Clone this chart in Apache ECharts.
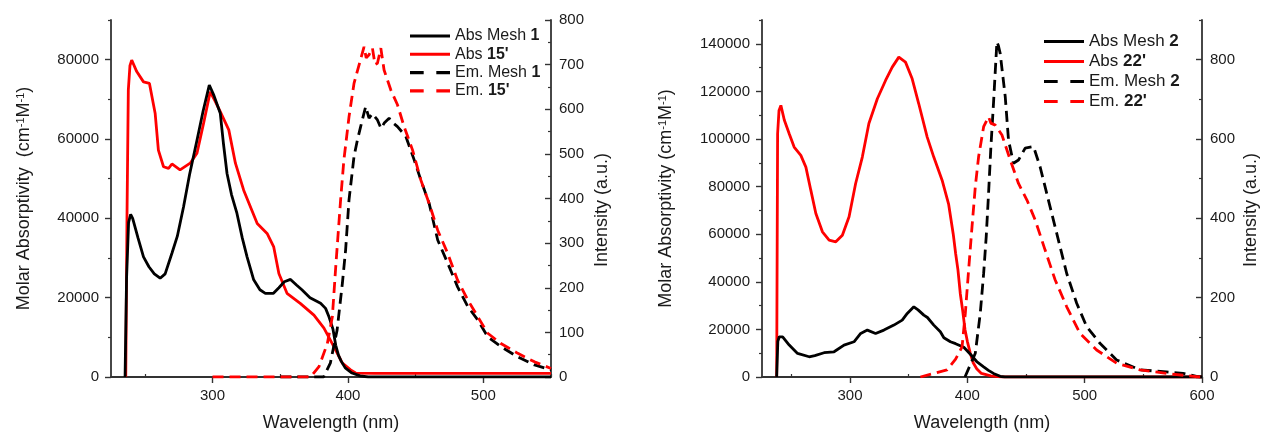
<!DOCTYPE html>
<html><head><meta charset="utf-8">
<script src="https://cdn.jsdelivr.net/npm/echarts@6/dist/echarts.min.js"></script>
<style>html,body{margin:0;padding:0;background:#fff}#c{width:1261px;height:433px}</style>
</head><body><div id="c"></div>
<script>
// ---------- Left panel (Mesh 1 / 15') ----------
const absMesh1_wl  = [235.4,236.5,238,239.5,241,245,249,253,257,261.3,265,270,274,278.6,283,288.5,293,297.6,301,305.7,308,310.7,314,318,322,325.5,330.4,335,339,345,349,353,357.6,362,366,372,379.8,383.5,386,389,391,393,395,398,403,409,415,450,500,550];
const absMesh1_val = [0,25000,39000,41000,40000,35000,30300,27800,26000,24900,26000,31200,35500,42900,51000,59700,67000,73600,71000,66500,59000,51300,46000,41300,35000,30300,24500,22000,21100,21100,22500,24000,24600,23200,22000,20000,18600,17300,15200,12000,8000,5500,4000,2300,1000,300,0,0,0,0];

const abs15_wl  = [235.9,236.8,237.8,239,240.3,244,249,253.4,257.6,260,263.8,267.5,270,276,283.5,288.5,293.4,298.3,302,305.7,312,316.9,323,333,340.3,345.2,349,355,365,374.9,382.3,389.7,395.9,402,405.7,420,550];
const abs15_val = [0,40000,72400,78500,79900,77000,74400,74000,66500,57200,53000,52600,53700,52200,53900,56400,64000,71900,69500,66900,62300,53900,47100,38700,36200,32800,26100,21100,18500,15600,12300,7600,3500,1800,1000,900,900];

const emMesh1_wl  = [350,382,387,392,395.9,398.3,400.8,404.5,407,409.4,413.1,415.6,418,421.8,424.5,427,430.4,433,436.6,442.8,449,453.9,460,466.3,473.7,481,488.5,495.9,503.3,513,525.5,537.8,550];
const emMesh1_val = [0,0,31,105,210,285,397,494,531,561,606,580,590,576,557,570,580,570,561,539,486,441,389,307,255,202,158,128,90,68,45,27,16];

const em15_wl  = [300,372.4,378.6,384.8,388.5,391,394.6,397,400.8,404.5,408.2,411.9,413.5,415.6,418.1,420,421.8,424.3,426.7,431.7,436.6,441.5,447.7,453.9,460,466.3,473.7,481,488.5,495.9,503.3,513,525.5,537.8,550];
const em15_val = [0,0,23,75,135,247,397,486,583,658,699,740,715,722,737,700,703,737,688,643,610,561,509,441,389,329,277,217,173,135,98,75,53,34,19];

// ---------- Right panel (Mesh 2 / 22') ----------
const absMesh2_wl  = [237.5,238.5,239.7,242.6,248.2,255.3,265.2,270,277.9,286.4,294.9,303.4,309.1,314.8,321.8,328.9,337.4,344.5,348.8,354.4,358,362.9,366,371.4,377,380,385.6,390,397,404,408,413.9,418,422.3,428,432,600];
const absMesh2_val = [0,15000,16900,16900,13400,9900,8500,9000,10200,10600,13400,14800,18300,19700,18300,19700,21800,23900,26700,29500,28200,26000,25000,21800,19000,16500,14800,14000,12500,8800,6500,4300,2800,1500,300,0,0];

const abs22_wl  = [237.5,238.3,239.5,241.1,244,248.2,252.4,258.1,262.4,266.6,270.9,276.5,282.2,287.9,293.5,299.2,304.8,310.5,316.1,323.3,330.3,336,341.6,347.3,353,358.6,365.8,371.4,378.5,384.1,388,390,392,394,396,398,400,402.5,405,408,412,420,430,600];
const abs22_val = [0,102200,112000,114100,108000,102200,96600,93100,88200,78500,68700,61000,57500,56800,59600,67300,81300,92400,106500,116900,124600,130200,134400,132300,125300,114800,100800,92400,82700,72500,60000,52000,45000,35000,28000,20000,15000,10000,6000,3500,1500,500,0,0];

const emMesh2_wl  = [398,399.7,406.8,411,413.9,416.1,418.1,420.1,422.3,425.2,426.5,428,432.3,435.1,439.3,443.6,449.3,456.4,462,469.1,476.2,484.7,493.2,501.7,513,527.2,547,569.6,583.8,598,600];
const emMesh2_val = [0,0,60,160,261,354,463,581,690,845,835,816,707,597,539,547,577,581,530,446,362,261,186,127,85,43,18,13,9,0,0];

const em22_wl  = [360,382.7,390,395.5,398.3,401.1,404,406.8,409.6,413.9,418.1,420,423.8,429.5,436.6,443.6,450.8,457.8,466.3,474.8,484.7,496,510.2,527.2,547,569.6,598,600];
const em22_val = [0,18,45,76,161,270,379,480,555,631,656,640,635,610,547,488,446,396,320,245,177,110,68,35,18,9,0,0];

// ---------- Tick labels ----------
const xTicksL = [300,400,500];
const xMinorL = [250,350,450,550];
const xTicksR = [300,400,500,600];
const xMinorR = [250,350,450,550];
const yAbsTicksL = [0,20000,40000,60000,80000];
const yAbsMinorL = [10000,30000,50000,70000,90000];
const yEmTicksL = [0,100,200,300,400,500,600,700,800];
const yEmMinorL = [50,150,250,350,450,550,650,750];
const yAbsTicksR = [0,20000,40000,60000,80000,100000,120000,140000];
const yAbsMinorR = [10000,30000,50000,70000,90000,110000,130000,150000];
const yEmTicksR = [0,200,400,600,800];
const yEmMinorR = [100,300,500,700,900];

const FONT = "'Liberation Sans', Arial, sans-serif";
const AX = '#333';
const TXT = '#1a1a1a';

function pairs(w, v){ return w.map((x,i)=>[x, v[i]]); }

function majorAxis(extra){
  return Object.assign({
    type:'value', splitLine:{show:false},
    axisLine:{show:true, onZero:false, lineStyle:{color:AX, width:1.8}},
    nameTextStyle:{fontFamily:FONT, fontSize:18, color:TXT},
  }, extra);
}
function minorAxis(extra, vals, inside){
  return Object.assign({
    type:'value', splitLine:{show:false},
    axisLine:{show:false},
    axisLabel:{show:false},
    axisTick:{show:true, inside:!!inside, length:3, customValues:vals, lineStyle:{color:AX, width:1.2}},
  }, extra);
}
function tick(vals, inside){ return {show:true, inside:!!inside, length:6, customValues:vals, lineStyle:{color:AX, width:1.4}}; }
function lab(vals, margin){ return {show:true, customValues:vals, fontFamily:FONT, fontSize:15, color:TXT, margin:margin,
  formatter: v => String(v)}; }

const xName = 'Wavelength (nm)';
const supRich = {s:{fontFamily:FONT, fontSize:11, color:TXT, verticalAlign:'top', lineHeight:18}};

const xAxis = [
  majorAxis({gridIndex:0, min:225, max:550, axisTick:tick(xTicksL), axisLabel:lab(xTicksL,11),
    name:xName, nameLocation:'middle', nameGap:37}),
  minorAxis({gridIndex:0, min:225, max:550}, xMinorL),
  majorAxis({gridIndex:1, min:225, max:600, axisTick:tick(xTicksR), axisLabel:lab(xTicksR,11),
    name:xName, nameLocation:'middle', nameGap:37}),
  minorAxis({gridIndex:1, min:225, max:600}, xMinorR),
];

const yAxis = [
  majorAxis({gridIndex:0, position:'left', min:0, max:90000, axisTick:tick(yAbsTicksL), axisLabel:lab(yAbsTicksL,12),
    name:'Molar Absorptivity  (cm{s|-1}M{s|-1})', nameLocation:'middle', nameGap:78, nameRotate:90,
    nameTextStyle:{fontFamily:FONT, fontSize:18, color:TXT, rich:supRich}}),
  minorAxis({gridIndex:0, position:'left', min:0, max:90000}, yAbsMinorL),
  majorAxis({gridIndex:0, position:'right', min:0, max:800, axisTick:tick(yEmTicksL,true), axisLabel:lab(yEmTicksL,8),
    name:'Intensity (a.u.)', nameLocation:'middle', nameGap:42, nameRotate:90,
    nameTextStyle:{fontFamily:FONT, fontSize:18, color:TXT, padding:[0,23,0,0]}}),
  minorAxis({gridIndex:0, position:'right', min:0, max:800}, yEmMinorL, true),
  majorAxis({gridIndex:1, position:'left', min:0, max:150000, axisTick:tick(yAbsTicksR), axisLabel:lab(yAbsTicksR,12),
    name:'Molar Absorptivity (cm{s|-1}M{s|-1})', nameLocation:'middle', nameGap:87, nameRotate:90,
    nameTextStyle:{fontFamily:FONT, fontSize:18, color:TXT, rich:supRich}}),
  minorAxis({gridIndex:1, position:'left', min:0, max:150000}, yAbsMinorR),
  majorAxis({gridIndex:1, position:'right', min:0, max:900, axisTick:tick(yEmTicksR,true), axisLabel:lab(yEmTicksR,8),
    name:'Intensity (a.u.)', nameLocation:'middle', nameGap:40, nameRotate:90,
    nameTextStyle:{fontFamily:FONT, fontSize:18, color:TXT, padding:[0,23,0,0]}}),
  minorAxis({gridIndex:1, position:'right', min:0, max:900}, yEmMinorR, true),
];

const RED = '#ff0000', BLK = '#000000';
const DASH = [11,6];
function line(name, xi, yi, data, color, dashed){
  return {name, type:'line', xAxisIndex:xi, yAxisIndex:yi, data, symbol:'none', showSymbol:false,
    animation:false, itemStyle:{color}, lineStyle:{color, width:2.8, type: dashed?DASH:'solid'}};
}

const series = [
  line("Abs 15'", 0, 0, pairs(abs15_wl, abs15_val), RED, false),
  line('Abs Mesh 1', 0, 0, pairs(absMesh1_wl, absMesh1_val), BLK, false),
  line('Em. Mesh 1', 0, 2, pairs(emMesh1_wl, emMesh1_val), BLK, true),
  line("Em. 15'", 0, 2, pairs(em15_wl, em15_val), RED, true),
  line("Abs 22'", 2, 4, pairs(abs22_wl, abs22_val), RED, false),
  line('Abs Mesh 2', 2, 4, pairs(absMesh2_wl, absMesh2_val), BLK, false),
  line('Em. Mesh 2', 2, 6, pairs(emMesh2_wl, emMesh2_val), BLK, true),
  line("Em. 22'", 2, 6, pairs(em22_wl, em22_val), RED, true),
];

const ICON_SOLID = 'path://M0,0H40V3H0Z';
const ICON_DASH  = 'path://M0,0H13V3H0ZM25,0H38V3H25Z';
function legendFmt(n){ return n.replace(/ (\S+)$/, ' {b|$1}'); }
function legend(names, left, top, fs, gap){
  return {data:names.map((n,i)=>({name:n, icon: i<2 ? ICON_SOLID : ICON_DASH})),
    orient:'vertical', left, top, itemWidth:40, itemHeight:12, itemGap:gap,
    formatter:legendFmt, selectedMode:false,
    textStyle:{fontFamily:FONT, fontSize:fs, lineHeight:fs, color:TXT,
      rich:{b:{fontFamily:FONT, fontSize:fs, fontWeight:'bold', color:TXT}}}};
}

const chart = echarts.init(document.getElementById('c'), null, {renderer:'canvas'});
chart.setOption({
  backgroundColor:'#fff',
  animation:false,
  grid:[
    {left:111, right:710, top:20, bottom:56, containLabel:false, outerBoundsMode:'none'},
    {left:762, right:59, top:20, bottom:56, containLabel:false, outerBoundsMode:'none'},
  ],
  legend:[
    legend(['Abs Mesh 1',"Abs 15'",'Em. Mesh 1',"Em. 15'"], 405, 23, 16, 2.3),
    legend(['Abs Mesh 2',"Abs 22'",'Em. Mesh 2',"Em. 22'"], 1039, 28, 17, 3),
  ],
  xAxis, yAxis, series
});
</script></body></html>
